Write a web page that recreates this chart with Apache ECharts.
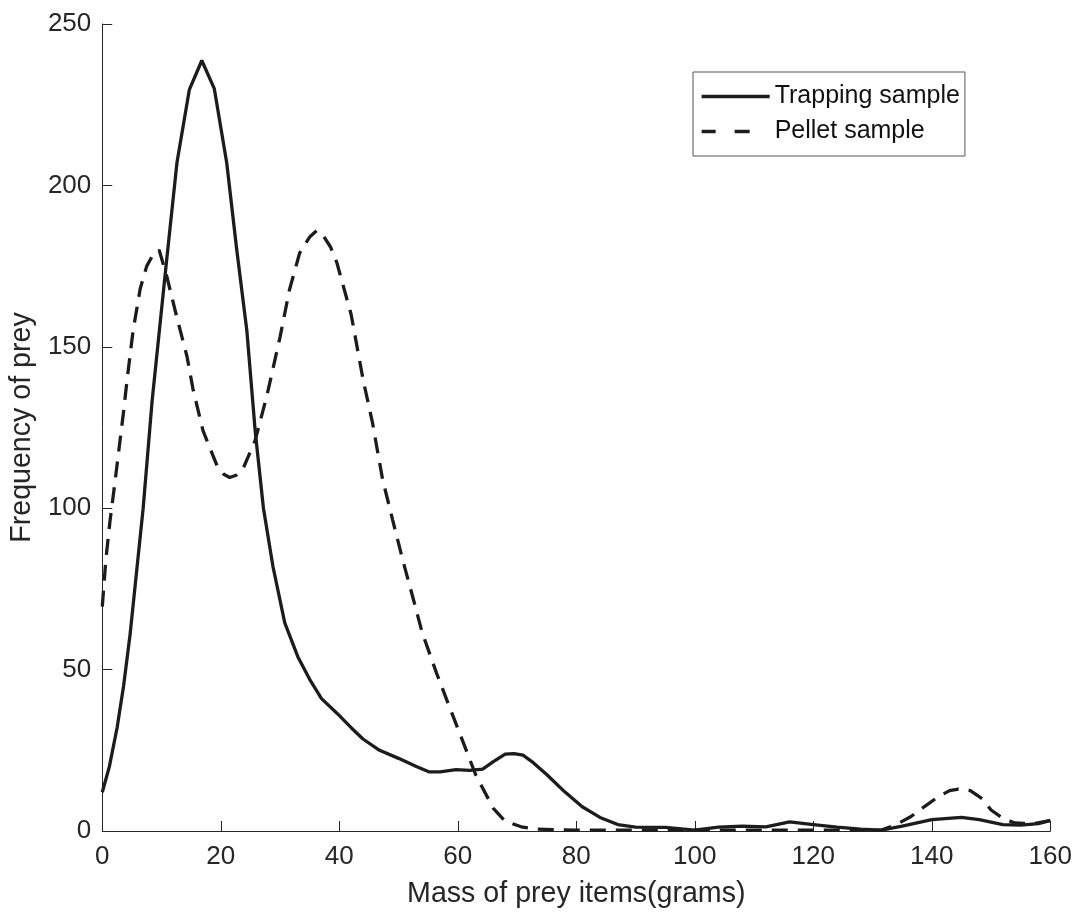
<!DOCTYPE html>
<html>
<head>
<meta charset="utf-8">
<script src="https://cdn.jsdelivr.net/npm/echarts@6/dist/echarts.min.js"></script>
<style>
html,body{margin:0;padding:0;background:#fff;}
#chart{width:1075px;height:915px;}
</style>
</head>
<body>
<div id="chart"></div>
<script>
// ---- data ----
const seriesNames = ['Trapping sample', 'Pellet sample'];
const xTitle = 'Mass of prey items(grams)';
const yTitle = 'Frequency of prey';

const trapMass = [0, 1.2, 2.5, 3.6, 4.7, 6.9, 8.4, 10.7, 12.6, 14.7, 16.8, 18.9, 21, 22.7, 24.4, 25.8, 27.2, 28.8, 30.8, 33, 35, 37, 39.6, 42, 44, 46.8, 50, 53, 55.2, 57, 59.7, 62, 64.2, 66, 68, 69.5, 71, 72.5, 75, 78, 81, 84, 87, 90, 95, 100, 104, 108, 112, 116, 120, 124, 128, 131.5, 135, 140, 145, 148, 152, 155, 158, 160];
const trapFreq = [12, 20, 32, 45, 61, 100, 133, 174, 207, 229.7, 238.7, 230, 207, 180, 155, 124, 100, 82, 64.5, 54, 47, 41, 36.5, 32, 28.5, 25, 22.5, 20, 18.3, 18.3, 19, 18.8, 19.2, 21.5, 23.8, 24, 23.5, 21.5, 17.5, 12.2, 7.5, 4.2, 2, 1.2, 1.1, 0.3, 1.2, 1.5, 1.3, 2.8, 2, 1.2, 0.6, 0.3, 1.5, 3.5, 4.2, 3.5, 2, 1.8, 2.3, 3.3];

const pelletMass = [0, 0.6, 1.3, 2, 3, 3.6, 4.2, 5.2, 6.4, 7.5, 8.4, 9.6, 10.9, 12.6, 14.3, 15.3, 17, 19.4, 20.5, 21.5, 22.6, 23.7, 25.8, 27.8, 30, 31.6, 33.3, 35, 36.2, 37.2, 38.5, 39.6, 42, 44, 45.6, 47.3, 49, 50.7, 52.4, 54, 56.4, 58.6, 60.8, 63, 66, 68, 70.7, 73, 76, 80, 90, 100, 110, 120, 128, 131.5, 134, 136.5, 138.7, 141, 143, 144.5, 146.5, 148.5, 150, 152, 154, 157, 160];
const pelletFreq = [69.5, 84, 96, 106, 121, 130, 140, 155, 168, 175, 178, 180, 171.7, 159, 147, 137, 124, 113, 110.5, 109.5, 110.2, 112, 121, 135, 153, 167.7, 179, 184, 186, 184.7, 181, 176, 160, 140, 126.5, 109, 96.4, 84, 72.5, 61.4, 49, 38.4, 28, 17.5, 7, 3, 1.3, 0.6, 0.4, 0.3, 0.3, 0.3, 0.3, 0.3, 0.3, 0.3, 2, 4.5, 7.5, 10.5, 12.5, 13, 12.5, 10, 6.5, 3.9, 2.5, 2.2, 3.2];

// ---- chart ----
const FONT = '"Liberation Sans", Arial, Helvetica, sans-serif';
const INK = '#262626';
const LINE = '#1c1c1c';

function pairs(xs, ys) { return xs.map((x, i) => [x, ys[i]]); }

const chart = echarts.init(document.getElementById('chart'), null, {renderer: 'canvas'});
chart.setOption({
  animation: false,
  backgroundColor: '#ffffff',
  textStyle: {fontFamily: FONT},
  grid: {left: 102, right: 22, top: 24, bottom: 84, containLabel: false},
  legend: {
    orient: 'vertical',
    left: 693, top: 72,
    itemWidth: 68, itemHeight: 25, itemGap: 10,
    padding: [12, 5, 12, 7],
    borderColor: '#555555', borderWidth: 1,
    backgroundColor: '#ffffff',
    textStyle: {fontFamily: FONT, fontSize: 25, color: '#111111'},
    data: [
      {name: seriesNames[0], itemStyle: {opacity: 0}, lineStyle: {color: LINE, width: 3.3, type: 'solid'}},
      {name: seriesNames[1], itemStyle: {opacity: 0}, lineStyle: {color: LINE, width: 3.3, type: [14, 19, 15, 30]}}
    ]
  },
  xAxis: {
    type: 'value', min: 0, max: 160, interval: 20,
    name: xTitle, nameLocation: 'middle', nameGap: 49,
    nameTextStyle: {fontFamily: FONT, fontSize: 28.6, color: INK},
    axisLine: {show: true, onZero: false, lineStyle: {color: INK, width: 1}},
    axisTick: {show: true, inside: true, length: 10, lineStyle: {color: INK, width: 1}},
    axisLabel: {fontFamily: FONT, fontSize: 26, color: INK, margin: 13},
    splitLine: {show: false}
  },
  yAxis: {
    type: 'value', min: 0, max: 250, interval: 50,
    name: yTitle, nameLocation: 'middle', nameGap: 62, nameRotate: 90,
    nameTextStyle: {fontFamily: FONT, fontSize: 28.6, color: INK},
    axisLine: {show: true, onZero: false, lineStyle: {color: INK, width: 1}},
    axisTick: {show: true, inside: true, length: 10, lineStyle: {color: INK, width: 1}},
    axisLabel: {fontFamily: FONT, fontSize: 26, color: INK, margin: 11},
    splitLine: {show: false}
  },
  series: [
    {
      name: seriesNames[0], type: 'line', data: pairs(trapMass, trapFreq),
      symbol: 'none', smooth: false, z: 3,
      lineStyle: {color: LINE, width: 3.3, type: 'solid'},
      itemStyle: {color: LINE}
    },
    {
      name: seriesNames[1], type: 'line', data: pairs(pelletMass, pelletFreq),
      symbol: 'none', smooth: false, z: 2,
      lineStyle: {color: LINE, width: 3.3, type: [16, 10]},
      itemStyle: {color: LINE}
    }
  ]
});
</script>
</body>
</html>
